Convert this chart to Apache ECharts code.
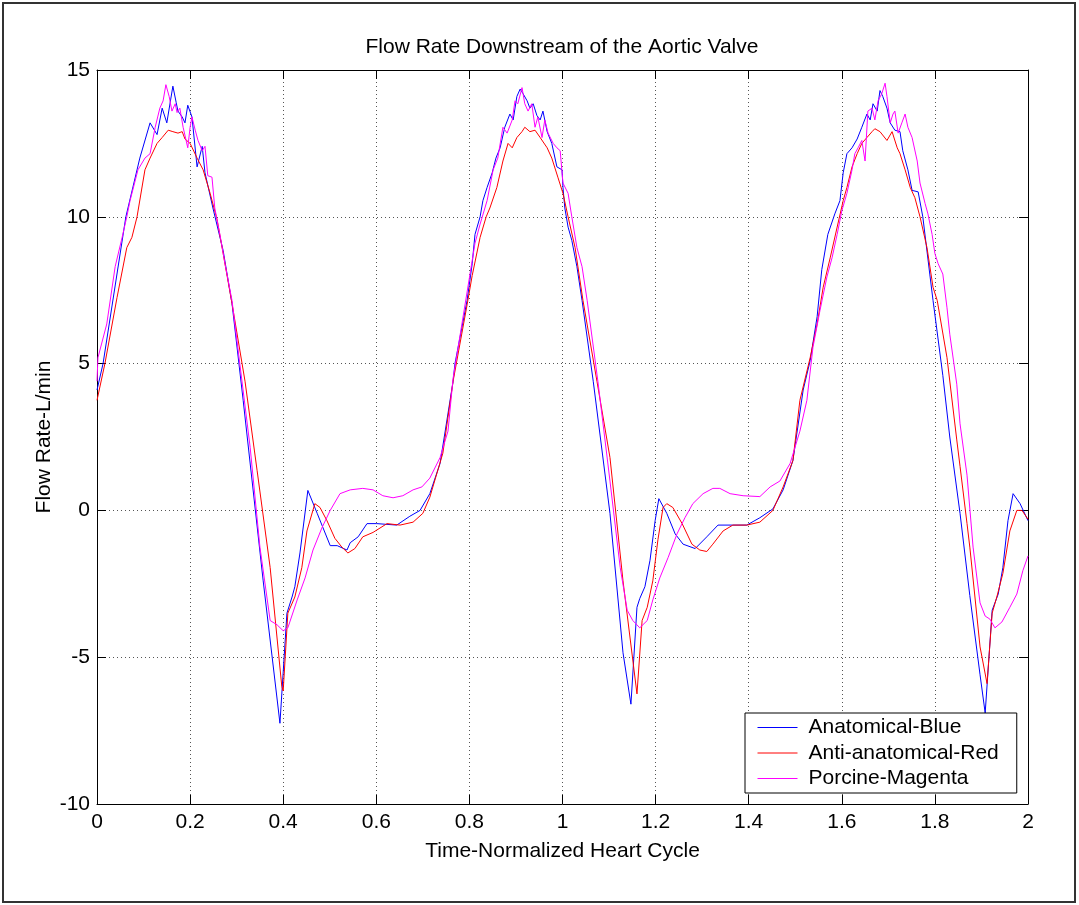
<!DOCTYPE html>
<html>
<head>
<meta charset="utf-8">
<title>Flow Rate Downstream of the Aortic Valve</title>
<script src="https://cdn.jsdelivr.net/npm/echarts@6/dist/echarts.min.js"></script>
<style>
  html, body { margin: 0; padding: 0; background: #fff; }
  #chart { width: 1079px; height: 905px; }
</style>
</head>
<body>
<div id="chart"></div>
<script>
// [time (normalized heart cycle), flow rate L/min]
const anatomical = [
  [0, 4.1], [0.013, 5.0], [0.062, 10.0], [0.092, 12.0], [0.114, 13.2], [0.129, 12.8], [0.140, 13.7],
  [0.150, 13.2], [0.163, 14.45], [0.170, 13.9], [0.174, 13.6], [0.183, 13.4], [0.189, 13.2], [0.195, 13.8],
  [0.204, 13.4], [0.215, 11.7], [0.226, 12.4], [0.232, 11.5], [0.249, 10.3], [0.271, 8.85], [0.290, 7.05],
  [0.314, 3.75], [0.357, -2.4], [0.393, -7.25], [0.408, -3.5], [0.419, -2.95], [0.425, -2.6], [0.436, -1.45],
  [0.453, 0.68], [0.473, -0.1], [0.501, -1.2], [0.516, -1.2], [0.537, -1.35], [0.544, -1.1], [0.561, -0.9],
  [0.580, -0.45], [0.601, -0.45], [0.644, -0.5], [0.672, -0.2], [0.694, 0], [0.715, 0.57], [0.737, 1.6],
  [0.765, 4.4], [0.769, 5.0], [0.795, 7.15], [0.806, 8.4], [0.812, 9.4], [0.823, 10.0], [0.829, 10.55],
  [0.838, 11.0], [0.849, 11.5], [0.857, 12.0], [0.866, 12.35], [0.876, 13.05], [0.887, 13.5], [0.894, 13.3],
  [0.902, 14.1], [0.909, 14.35], [0.915, 14.2], [0.924, 13.95], [0.930, 13.7], [0.937, 13.85], [0.945, 13.45],
  [0.952, 13.3], [0.958, 13.6], [0.967, 12.9], [0.977, 12.5], [0.988, 11.7], [0.999, 11.6], [1.001, 11.0],
  [1.005, 10.3], [1.012, 9.65], [1.020, 9.2], [1.031, 8.3], [1.042, 7.15], [1.066, 4.4], [1.102, -0.1],
  [1.130, -4.85], [1.147, -6.6], [1.160, -3.3], [1.166, -3.0], [1.177, -2.6], [1.188, -1.7], [1.199, -0.35],
  [1.207, 0.4], [1.224, -0.1], [1.242, -0.8], [1.259, -1.15], [1.285, -1.3], [1.310, -0.9], [1.334, -0.5],
  [1.366, -0.5], [1.396, -0.5], [1.424, -0.25], [1.452, 0.05], [1.474, 0.7], [1.495, 1.7], [1.517, 4.1],
  [1.532, 5.1], [1.547, 6.6], [1.557, 8.2], [1.570, 9.4], [1.585, 10.1], [1.596, 10.55], [1.603, 11.5],
  [1.611, 12.15], [1.622, 12.35], [1.633, 12.65], [1.643, 13.05], [1.654, 13.5], [1.661, 13.3], [1.667, 13.85],
  [1.676, 13.6], [1.682, 14.3], [1.688, 14.1], [1.697, 13.7], [1.704, 13.2], [1.714, 12.95], [1.725, 12.9],
  [1.731, 12.25], [1.742, 11.6], [1.751, 10.9], [1.764, 10.85], [1.774, 10.0], [1.789, 8.05], [1.796, 7.15],
  [1.817, 4.6], [1.832, 2.5], [1.854, -0.1], [1.875, -2.9], [1.897, -5.6], [1.908, -6.9], [1.923, -3.4],
  [1.936, -2.85], [1.946, -1.95], [1.957, -0.35], [1.968, 0.57], [1.983, 0.23], [2.0, -0.35]
];

const antiAnatomical = [
  [0, 3.75], [0.017, 5.0], [0.043, 7.25], [0.064, 8.95], [0.075, 9.3], [0.086, 10.0], [0.103, 11.6],
  [0.114, 12.0], [0.129, 12.5], [0.140, 12.7], [0.153, 12.95], [0.163, 12.9], [0.174, 12.85], [0.183, 12.9],
  [0.189, 12.65], [0.200, 12.5], [0.215, 12.0], [0.228, 11.6], [0.243, 10.8], [0.258, 9.9], [0.271, 8.75],
  [0.290, 7.05], [0.318, 4.4], [0.344, 1.35], [0.372, -1.95], [0.397, -6.0], [0.400, -6.15], [0.410, -3.5],
  [0.425, -2.95], [0.440, -1.95], [0.451, -0.7], [0.468, 0.23], [0.479, 0.1], [0.494, -0.35], [0.511, -0.95],
  [0.526, -1.25], [0.539, -1.45], [0.554, -1.3], [0.571, -0.9], [0.593, -0.75], [0.623, -0.45], [0.651, -0.5],
  [0.679, -0.4], [0.700, -0.1], [0.715, 0.45], [0.743, 1.95], [0.765, 4.4], [0.795, 7.0], [0.806, 8.0],
  [0.823, 9.3], [0.836, 10.0], [0.844, 10.3], [0.859, 11.0], [0.872, 11.9], [0.883, 12.5], [0.892, 12.35],
  [0.902, 12.7], [0.913, 12.9], [0.919, 13.05], [0.930, 12.9], [0.941, 12.95], [0.952, 12.7], [0.967, 12.35],
  [0.977, 12.0], [0.990, 11.35], [1.001, 10.8], [1.012, 10.0], [1.027, 8.95], [1.044, 7.15], [1.074, 4.4],
  [1.102, 1.8], [1.130, -2.4], [1.160, -6.25], [1.171, -3.75], [1.182, -3.3], [1.194, -2.4], [1.205, -1.0],
  [1.216, 0.1], [1.224, 0.23], [1.237, 0.1], [1.257, -0.45], [1.278, -1.15], [1.295, -1.35], [1.310, -1.4],
  [1.323, -1.15], [1.345, -0.7], [1.366, -0.5], [1.396, -0.5], [1.424, -0.4], [1.452, 0], [1.474, 0.8],
  [1.495, 1.7], [1.510, 3.75], [1.532, 5.2], [1.547, 6.35], [1.560, 7.6], [1.575, 8.6], [1.590, 9.65],
  [1.603, 10.55], [1.611, 11.0], [1.622, 11.7], [1.633, 12.15], [1.643, 12.5], [1.654, 12.7], [1.665, 12.9],
  [1.671, 13.0], [1.682, 12.9], [1.697, 12.6], [1.708, 12.9], [1.719, 12.35], [1.725, 12.15], [1.736, 11.6],
  [1.747, 11.0], [1.757, 10.65], [1.768, 10.0], [1.783, 8.95], [1.796, 7.6], [1.805, 7.15], [1.826, 5.2],
  [1.847, 2.4], [1.854, 1.5], [1.869, -0.45], [1.875, -1.25], [1.897, -4.65], [1.912, -5.9], [1.923, -3.5],
  [1.933, -2.95], [1.946, -2.15], [1.961, -0.7], [1.976, 0.0], [1.987, 0.0], [2.0, -0.3]
];

const porcine = [
  [0, 4.4], [0.002, 5.2], [0.021, 6.35], [0.039, 8.3], [0.054, 9.3], [0.064, 10.0], [0.071, 10.55],
  [0.088, 11.6], [0.103, 12.0], [0.114, 12.15], [0.125, 13.05], [0.135, 13.7], [0.142, 13.95], [0.148, 14.5],
  [0.155, 14.1], [0.161, 13.6], [0.168, 13.85], [0.172, 13.55], [0.178, 13.7], [0.185, 13.05], [0.195, 12.35],
  [0.200, 13.05], [0.204, 13.4], [0.211, 12.95], [0.217, 12.6], [0.226, 12.25], [0.232, 12.4], [0.238, 11.4],
  [0.247, 11.35], [0.253, 10.3], [0.264, 9.4], [0.275, 8.4], [0.290, 7.15], [0.329, 2.15], [0.350, -1.25],
  [0.372, -3.75], [0.387, -3.9], [0.400, -4.1], [0.410, -4.0], [0.430, -3.05], [0.447, -2.3], [0.464, -1.35],
  [0.483, -0.6], [0.501, 0], [0.522, 0.57], [0.544, 0.7], [0.571, 0.75], [0.593, 0.7], [0.614, 0.5],
  [0.636, 0.43], [0.657, 0.5], [0.679, 0.7], [0.698, 0.8], [0.715, 1.1], [0.737, 1.8], [0.754, 2.7],
  [0.765, 4.5], [0.812, 9.1], [0.823, 9.75], [0.838, 10.55], [0.851, 11.6], [0.861, 12.0], [0.872, 13.05],
  [0.881, 12.85], [0.892, 13.3], [0.898, 13.95], [0.904, 13.85], [0.913, 14.4], [0.919, 13.85], [0.926, 13.6],
  [0.934, 13.85], [0.941, 13.05], [0.947, 13.4], [0.956, 12.7], [0.962, 13.3], [0.969, 12.85], [0.980, 12.5],
  [0.988, 12.35], [0.995, 12.25], [1.001, 11.15], [1.012, 10.8], [1.020, 10.0], [1.031, 8.95], [1.042, 8.3],
  [1.053, 7.15], [1.076, 4.4], [1.102, 1.0], [1.124, -1.95], [1.139, -3.4], [1.151, -3.75], [1.166, -4.0],
  [1.182, -3.75], [1.194, -3.05], [1.209, -2.3], [1.227, -1.6], [1.246, -0.8], [1.263, -0.25], [1.280, 0.23],
  [1.302, 0.57], [1.323, 0.75], [1.338, 0.75], [1.360, 0.57], [1.388, 0.5], [1.424, 0.47], [1.446, 0.8],
  [1.467, 1.0], [1.489, 1.6], [1.510, 2.7], [1.525, 3.75], [1.538, 5.55], [1.553, 6.8], [1.568, 7.95],
  [1.579, 8.6], [1.590, 9.4], [1.600, 10.2], [1.611, 10.8], [1.622, 11.6], [1.628, 12.15], [1.635, 12.35],
  [1.643, 12.6], [1.650, 11.9], [1.656, 13.6], [1.665, 13.7], [1.671, 13.3], [1.678, 13.95], [1.686, 14.2],
  [1.693, 14.55], [1.697, 14.1], [1.704, 13.2], [1.710, 13.5], [1.714, 13.6], [1.721, 12.85], [1.729, 13.2],
  [1.736, 13.5], [1.742, 13.05], [1.751, 12.7], [1.762, 11.9], [1.768, 11.15], [1.779, 10.45], [1.785, 10.1],
  [1.794, 9.4], [1.800, 8.75], [1.807, 8.4], [1.817, 8.05], [1.826, 6.9], [1.832, 6.0], [1.847, 4.3],
  [1.854, 2.95], [1.869, 1.2], [1.882, -1.25], [1.897, -3.15], [1.908, -3.6], [1.918, -3.7], [1.929, -4.0],
  [1.944, -3.8], [1.961, -3.3], [1.976, -2.85], [1.989, -2.05], [2.0, -1.55]
];

const seriesNames = ['Anatomical-Blue', 'Anti-anatomical-Red', 'Porcine-Magenta'];
const seriesColors = ['#0000ff', '#ff0000', '#ff00ff'];

const font = "'Liberation Sans', Arial, sans-serif";
const gridDots = {show: true, lineStyle: {color: '#555', type: [1, 3], width: 1}};

const chart = echarts.init(document.getElementById('chart'), null, {renderer: 'canvas'});

function plainAxis(pos, isX, extra) {
  return Object.assign({
    type: 'value',
    position: pos,
    min: isX ? 0 : -10,
    max: isX ? 2 : 15,
    interval: isX ? 0.2 : 5,
    axisLine: {show: true, onZero: false, lineStyle: {color: '#000', width: 1}},
    axisTick: {show: true, inside: true, length: 9, lineStyle: {color: '#000'}},
    axisLabel: {show: false},
    splitLine: {show: false}
  }, extra);
}

const opts = {
  animation: false,
  backgroundColor: '#fff',
  textStyle: {fontFamily: font, color: '#000'},
  title: {
    text: 'Flow Rate Downstream of the Aortic Valve',
    left: 562,
    top: 37,
    padding: 0,
    textAlign: 'center',
    textStyle: {fontFamily: font, fontSize: 21, fontWeight: 'normal', color: '#000'}
  },
  grid: {left: 97, right: 51, top: 70, bottom: 101, containLabel: false},
  legend: {
    data: seriesNames,
    orient: 'vertical',
    left: 745,
    top: 713,
    padding: [4, 18, 4, 12],
    itemWidth: 40,
    itemHeight: 14,
    itemGap: 4.5,
    lineStyle: {width: 1},
    itemStyle: {opacity: 0},
    backgroundColor: '#fff',
    borderColor: '#000',
    borderWidth: 1,
    borderRadius: 0,
    textStyle: {fontFamily: font, fontSize: 21, color: '#000', lineHeight: 21, padding: [0, 0, 0, 6]}
  },
  xAxis: [
    plainAxis('bottom', true, {
      name: 'Time-Normalized Heart Cycle',
      nameLocation: 'middle',
      nameGap: 37,
      nameMoveOverlap: false,
      nameTextStyle: {fontFamily: font, fontSize: 21, color: '#000'},
      axisLabel: {show: true, margin: 8, fontFamily: font, fontSize: 21, color: '#000'},
      splitLine: gridDots
    }),
    plainAxis('top', true, {})
  ],
  yAxis: [
    plainAxis('left', false, {
      name: 'Flow Rate-L/min',
      nameLocation: 'middle',
      nameGap: 42,
      nameMoveOverlap: false,
      nameTextStyle: {fontFamily: font, fontSize: 21, color: '#000'},
      axisLabel: {show: true, margin: 7, fontFamily: font, fontSize: 21, color: '#000'},
      splitLine: gridDots
    }),
    plainAxis('right', false, {})
  ],
  series: [anatomical, antiAnatomical, porcine].map((d, i) => ({
    name: seriesNames[i],
    type: 'line',
    data: d,
    symbol: 'none',
    smooth: false,
    clip: true,
    lineStyle: {color: seriesColors[i], width: 1},
    itemStyle: {color: seriesColors[i]},
    z: 2 + i
  })),
  graphic: [{
    type: 'rect',
    shape: {x: 3, y: 3, width: 1072, height: 899},
    style: {fill: null, stroke: '#333', lineWidth: 2},
    silent: true,
    z: 100
  }]
};

chart.setOption(opts);
</script>
</body>
</html>
